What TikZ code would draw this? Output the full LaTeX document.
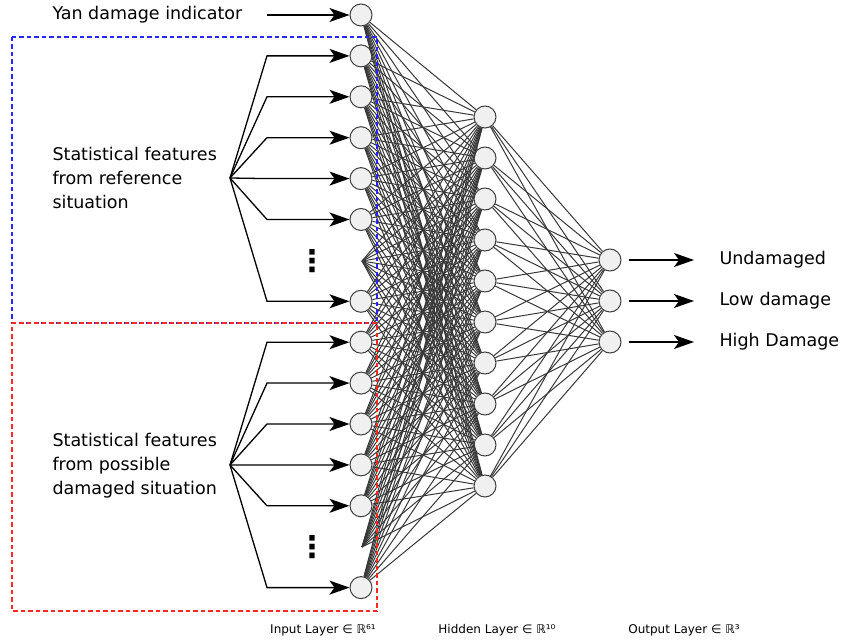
\documentclass[tikz,border=0pt]{standalone}
\usepackage{fontspec}
\setmainfont{DejaVu Sans}
\usetikzlibrary{arrows.meta}

\begin{document}
\begin{tikzpicture}[
    x=1pt,
    y=-1pt,
    >={Stealth[length=20pt, width=14pt, inset=5pt]},
    neuron/.style={circle, draw=black!75, fill=black!6, minimum size=22pt, inner sep=0pt, line width=1pt},
    link/.style={black!78, line width=1pt},
    feed/.style={->, line width=1.3pt},
    groupbox/.style={line width=1.1pt, dash pattern=on 4.5pt off 3pt},
    every node/.append style={font=\fontsize{17.5}{24}\selectfont}
]
    \useasboundingbox (0,0) rectangle (844,644);
    % layers
    \foreach \k in {0,1,2,3,4,5,7,8,9,10,11,12,14}
        \node[neuron] (in\k) at (361, {15+40.9*\k}) {};
    \coordinate (in6) at (362, 261);
    \coordinate (in13) at (362, 547);
    \foreach \j in {0,...,9}
        \node[neuron] (hid\j) at (485, {117+41*\j}) {};
    \foreach \j in {0,1,2}
        \node[neuron] (out\j) at (610, {260+41*\j}) {};
    \node[font=\bfseries\fontsize{30}{30}\selectfont] (dotsA) at (312, 261) {⋮};
    \node[font=\bfseries\fontsize{30}{30}\selectfont] (dotsB) at (312, 547) {⋮};
    % weights
    \foreach \k in {0,...,14}
        \foreach \j in {0,...,9}
            \draw[link] (in\k) -- (hid\j);
    \foreach \j in {0,...,9}
        \foreach \o in {0,1,2}
            \draw[link] (hid\j) -- (out\o);
    % groups
    \draw[groupbox, blue!85!white] (12,37) rectangle (377,323);
    \draw[groupbox, red!85!white, dash phase=3.5pt] (12,323) rectangle (377,611);
    % inputs
    \node[anchor=west] (yan) at (49, 15) {Yan damage indicator};
    \draw[feed] (267,15) -- (in0);
    \coordinate (bendx) at (267, 0);
    \coordinate (refsplit) at (230, 178);
    \coordinate (dmgsplit) at (230, 465);
    \node[anchor=west, align=left] (reflab) at (49, 178) {Statistical features\\from reference\\situation};
    \node[anchor=west, align=left] (dmglab) at (49, 466) {Statistical features\\from possible\\damaged situation};
    \foreach \k in {1,2,3,4,5,7}
        \draw[feed] (refsplit) -- (bendx |- in\k) -- (in\k);
    \foreach \k in {8,9,10,11,12,14}
        \draw[feed] (dmgsplit) -- (bendx |- in\k) -- (in\k);
    % outputs
    \node[anchor=west] (lab0) at (716, 260) {Undamaged};
    \node[anchor=west] (lab1) at (716, 301) {Low damage};
    \node[anchor=west] (lab2) at (716, 342) {High Damage};
    \foreach \o in {0,1,2}
        \draw[feed] ([xshift=7pt]out\o.east) -- ([xshift=-22pt]lab\o.west);
    % layer names
    \node[font=\fontsize{12}{14}\selectfont] (inname) at (323, 630) {Input Layer ∈ ℝ⁶¹};
    \node[font=\fontsize{12}{14}\selectfont] (hidname) at (497, 630) {Hidden Layer ∈ ℝ¹⁰};
    \node[font=\fontsize{12}{14}\selectfont] (outname) at (684, 630) {Output Layer ∈ ℝ³};
\end{tikzpicture}
\end{document}
